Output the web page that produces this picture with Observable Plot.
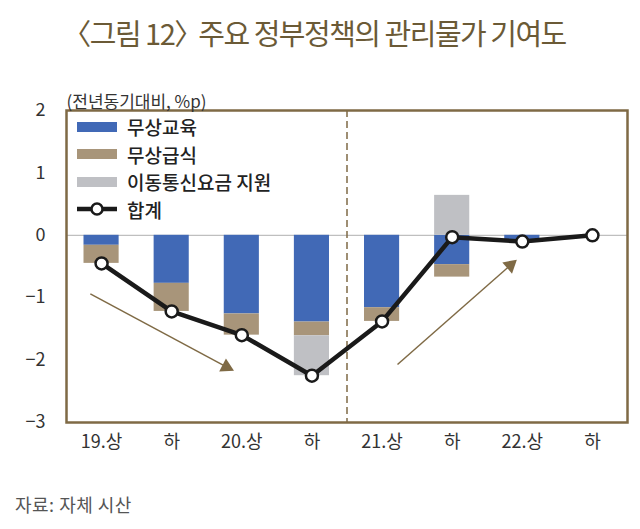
<!DOCTYPE html>
<html><head><meta charset="utf-8">
<script src="https://cdn.jsdelivr.net/npm/d3@7"></script>
<script src="https://cdn.jsdelivr.net/npm/@observablehq/plot@0.6"></script>
<style>
body{margin:0;background:#fff;font-family:"Noto Sans CJK KR","Noto Sans",sans-serif;}
#wrap{position:relative;width:640px;height:529px;overflow:hidden;}
#title{position:absolute;left:0;top:11px;width:640px;text-align:center;font-size:29px;color:#6b5a36;letter-spacing:-1.5px;line-height:42px;}
#title .lb{margin-left:-12px;}
#title .rb{letter-spacing:-10px;}
#chart{position:absolute;left:0;top:70px;}
#legend{position:absolute;left:77px;top:113px;}
.row{display:flex;align-items:center;height:27.5px;font-size:19px;font-weight:500;color:#222;}
.sw{width:40px;height:10px;margin-right:10px;}
#foot{position:absolute;left:15px;top:491px;font-size:18px;letter-spacing:0.5px;color:#555;}
</style></head>
<body><div id="wrap">
<div id="title"><span class="lb">〈</span>그림 12<span class="rb">〉</span> 주요 정부정책의 관리물가 기여도</div>
<div id="chart"></div>
<div id="legend"></div>
<div id="foot">자료: 자체 시산</div>
</div>
<script>
const periods = ["19.상","하","20.상","하","21.상","하","22.상","하"];
const seriesNames = ["무상교육","무상급식","이동통신요금 지원"];
const seriesColors = ["#4169b6","#a8957a","#bfc0c4"];
const totalName = "합계";
const freeEducation = [-0.16,-0.77,-1.26,-1.39,-1.16,-0.47,-0.07,0];
const freeMeals     = [-0.29,-0.45,-0.34,-0.22,-0.22,-0.20,-0.03,0];
const mobileFee     = [0,0,0,-0.64,0,0.64,0,0];
const total         = [-0.45,-1.22,-1.60,-2.25,-1.38,-0.03,-0.10,0];
const yTicks = [-3,-2,-1,0,1,2];
const dividerAt = [4];
const arrowX1 = [0.34, 4.72];
const arrowY1 = [-0.94, -2.07];
const arrowX2 = [2.28, 6.33];
const arrowY2 = [-2.11, -0.48];
const arrowRotate = [117, 49];
const unitLabel = "(전년동기대비, %p)";

const seriesValues = [freeEducation, freeMeals, mobileFee];
const bars = periods.flatMap((p, i) => seriesNames.map((s, k) => ({i, period: p, series: s, value: seriesValues[k][i]})));
const totals = periods.map((p, i) => ({x: i + 0.5, value: total[i]}));
const arrows = arrowX1.map((x, k) => ({x1: x, y1: arrowY1[k], x2: arrowX2[k], y2: arrowY2[k], rot: arrowRotate[k]}));
const brown = "#7f6a45";

const chart = Plot.plot({
  width: 640, height: 392,
  marginLeft: 66, marginRight: 13, marginTop: 40, marginBottom: 40,
  style: {fontSize: "18px", fontFamily: '"Noto Sans CJK KR", sans-serif', color: "#333", background: "transparent"},
  x: {domain: [0, 8], ticks: periods.map((_, i) => i + 0.5), tickFormat: d => periods[Math.floor(d)], tickSize: 0, tickPadding: 13, label: null},
  y: {domain: [-3, 2], ticks: yTicks, tickFormat: d => d < 0 ? "−" + (-d) : String(d), tickSize: 0, tickPadding: 21, label: null},
  color: {domain: seriesNames, range: seriesColors},
  marks: [
    Plot.ruleY([0], {stroke: "#b0b0b0", strokeWidth: 1}),
    Plot.rectY(bars, {x: "i", interval: 1, y: "value", fill: "series", insetLeft: 17.5, insetRight: 17.5}),
    Plot.ruleX(dividerAt, {stroke: brown, strokeWidth: 1.5, strokeDasharray: "7,4"}),
    Plot.frame({stroke: brown, strokeWidth: 2.5}),
    Plot.link(arrows, {x1: "x1", y1: "y1", x2: "x2", y2: "y2", stroke: brown, strokeWidth: 1.5}),
    Plot.dot(arrows, {x: "x2", y: "y2", symbol: "triangle", r: 5.5, fill: brown, stroke: "none", rotate: "rot"}),
    Plot.line(totals, {x: "x", y: "value", stroke: "#1a1a1a", strokeWidth: 4.5}),
    Plot.dot(totals, {x: "x", y: "value", r: 6, fill: "white", stroke: "#1a1a1a", strokeWidth: 2.5}),
    Plot.text([unitLabel], {text: d => d, frameAnchor: "top-left", dy: -15, textAnchor: "start", fontSize: 17, fill: "#333"})
  ]
});
document.getElementById("chart").appendChild(chart);

const legend = document.getElementById("legend");
seriesNames.forEach((s, k) => {
  const row = document.createElement("div");
  row.className = "row";
  row.innerHTML = `<div class="sw" style="background:${seriesColors[k]}"></div><span>${s}</span>`;
  legend.appendChild(row);
});
const lrow = document.createElement("div");
lrow.className = "row";
lrow.innerHTML = `<svg width="40" height="14" style="margin-right:10px"><line x1="0" y1="7" x2="40" y2="7" stroke="#1a1a1a" stroke-width="4.5"/><circle cx="20" cy="7" r="5.5" fill="white" stroke="#1a1a1a" stroke-width="2.5"/></svg><span>${totalName}</span>`;
legend.appendChild(lrow);
</script>
</body></html>
